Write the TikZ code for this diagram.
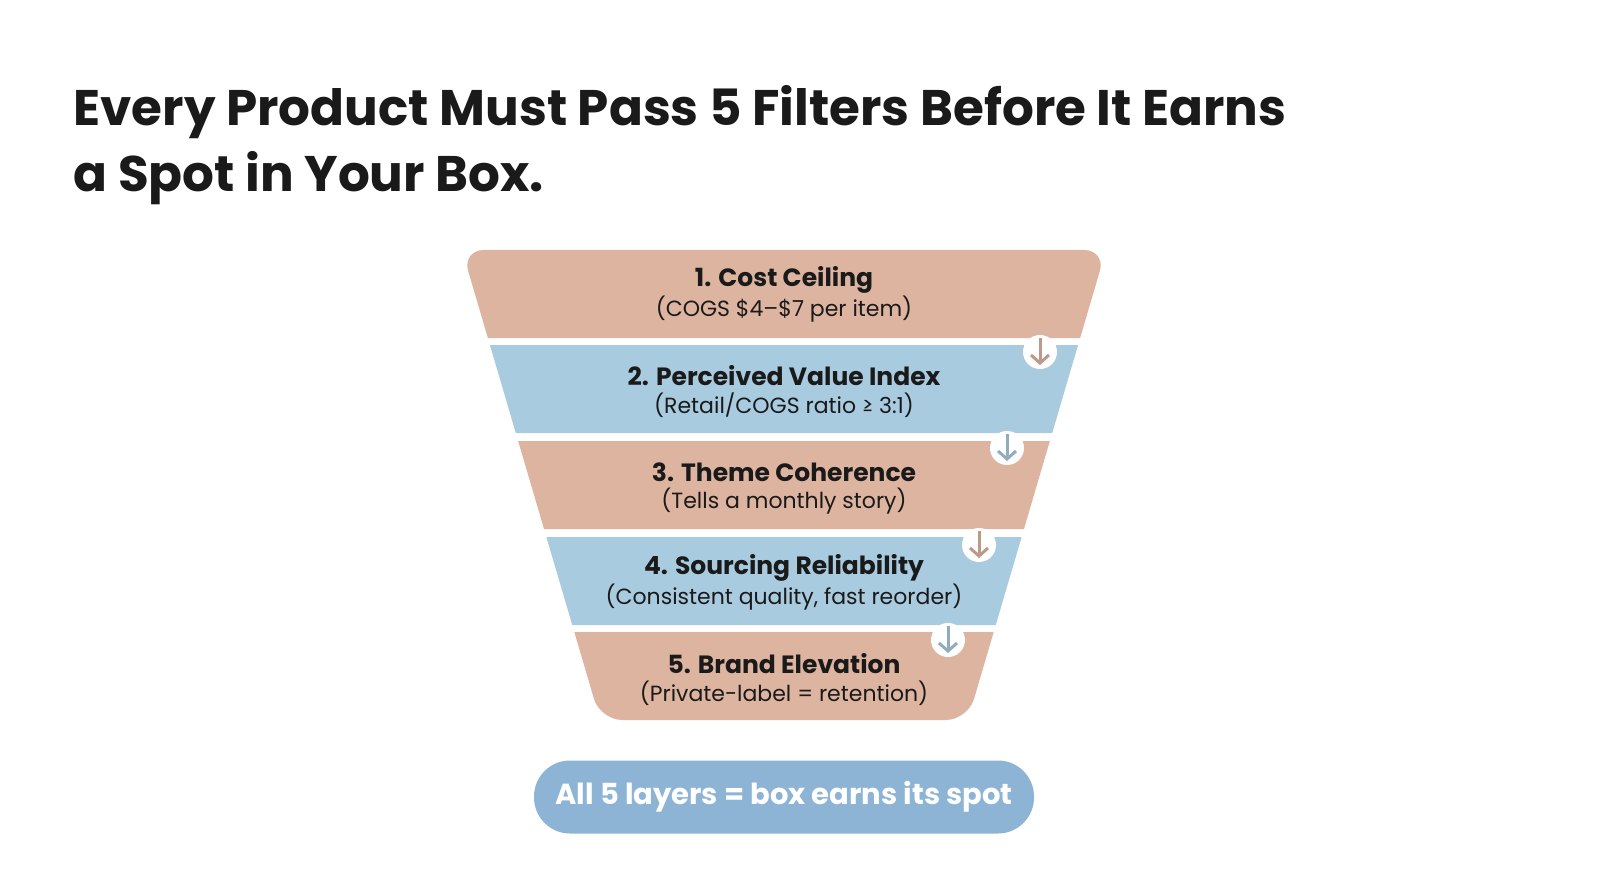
\documentclass[tikz,border=0pt]{standalone}
\usepackage{fontspec}
\setmainfont{Poppins}
\usetikzlibrary{arrows.meta}
\definecolor{peach}{HTML}{DDB4A0}
\definecolor{sky}{HTML}{A9CBE0}
\definecolor{pill}{HTML}{8DB4D5}
\definecolor{ink}{HTML}{1A1A1A}
\tikzset{
  head/.style={font=\fontsize{25}{30}\selectfont\bfseries, text=ink},
  sub/.style={font=\fontsize{22}{28}\selectfont, text=ink},
  hop/.style={line width=3pt, -{Straight Barb[length=8pt,width=18pt]}},
}
\begin{document}
\begin{tikzpicture}[x=1pt,y=-1pt,>=latex]
  \useasboundingbox[fill=white] (0,0) rectangle (1600,893);
  % left edge x = 462 + 0.294*(y-250), right edge mirrored around 784
  \def\lx#1{462+0.294*(#1-250)}
  \def\rx#1{1106-0.294*(#1-250)}
  \fill[peach, rounded corners=22pt] ({\lx{250}},250) -- ({\rx{250}},250) [sharp corners] -- ({\rx{338}},338) -- ({\lx{338}},338) [rounded corners=22pt] -- cycle;
  \fill[sky] ({\lx{345}},345) -- ({\rx{345}},345) -- ({\rx{433}},433) -- ({\lx{433}},433) -- cycle;
  \fill[peach] ({\lx{441}},441) -- ({\rx{441}},441) -- ({\rx{529}},529) -- ({\lx{529}},529) -- cycle;
  \fill[sky] ({\lx{537}},537) -- ({\rx{537}},537) -- ({\rx{625}},625) -- ({\lx{625}},625) -- cycle;
  \fill[peach] ({\lx{632}},632) -- ({\rx{632}},632) [rounded corners=22pt] -- ({\rx{720}},720) -- ({\lx{720}},720) [sharp corners] -- cycle;

  % title
  \node (title) [anchor=north west, align=left, text=ink, font=\fontsize{50}{66}\selectfont\bfseries] at (70,82)
    {Every Product Must Pass 5 Filters Before It Earns\\a Spot in Your Box.};

  % layer texts
  \node (h1) [head] at (784,280) {1. Cost Ceiling};
  \node (s1) [sub]  at (784,309) {(COGS \$4–\$7 per item)};
  \node (h2) [head] at (784,376) {2. Perceived Value Index};
  \node (s2) [sub]  at (784,405) {(Retail/COGS ratio ≥ 3:1)};
  \node (h3) [head] at (784,472) {3. Theme Coherence};
  \node (s3) [sub]  at (784,501) {(Tells a monthly story)};
  \node (h4) [head] at (784,568) {4. Sourcing Reliability};
  \node (s4) [sub]  at (784,597) {(Consistent quality, fast reorder)};
  \node (h5) [head] at (784,664) {5. Brand Elevation};
  \node (s5) [sub]  at (784,693) {(Private-label = retention)};

  % hop arrows between layers
  \foreach \cx/\cy/\col in {1040/352/peach, 1007/448/sky, 979/545/peach, 948/640/sky}{
    \fill[white] (\cx,\cy) circle (17);
    \coordinate (a) at (\cx,\cy-14);
    \coordinate (b) at (\cx,\cy+13);
    \draw[hop, draw=\col!85!black] (a) -- (b);
  }

  % result pill
  \node (pill) [fill=pill, rounded corners=36pt, minimum width=500pt, minimum height=73pt,
    text=white, font=\fontsize{29}{36}\selectfont\bfseries] at (784,797) {All 5 layers = box earns its spot};
\end{tikzpicture}
\end{document}
